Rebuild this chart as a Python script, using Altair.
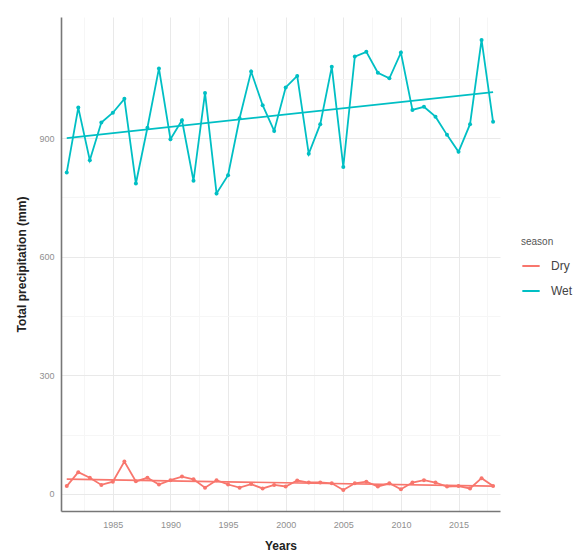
import altair as alt
import pandas as pd

# Seasonal precipitation totals per year (mm)
years = list(range(1981, 2019))
wet = [813, 977, 844, 939, 964, 999, 785, 926, 1076, 897,
       945, 792, 1014, 760, 806, 950, 1068, 983, 918, 1028,
       1057, 860, 935, 1080, 827, 1106, 1118, 1065, 1051, 1116,
       971, 979, 954, 908, 865, 935, 1148, 941]
dry = [20, 55, 41, 23, 31, 82, 32, 41, 24, 35,
       44, 37, 16, 35, 24, 16, 25, 14, 23, 19,
       34, 29, 29, 27, 10, 27, 31, 19, 27, 12,
       29, 35, 29, 19, 20, 14, 40, 20]
seasons = ["Dry", "Wet"]
colors = ["#F8766D", "#00BFC4"]

df = pd.concat([
    pd.DataFrame({"year": years, "precip": dry, "season": "Dry"}),
    pd.DataFrame({"year": years, "precip": wet, "season": "Wet"}),
])

x_ticks = [1982.5, 1985, 1987.5, 1990, 1992.5, 1995, 1997.5, 2000,
           2002.5, 2005, 2007.5, 2010, 2012.5, 2015, 2017.5]
y_ticks = [0, 150, 300, 450, 600, 750, 900, 1050]

x_enc = alt.X(
    "year:Q",
    title="Years",
    scale=alt.Scale(domain=[1980.5, 2018.6], nice=False, zero=False),
    axis=alt.Axis(
        values=x_ticks,
        labelExpr="datum.value % 5 == 0 ? format(datum.value, 'd') : ''",
        ticks=False,
        labelPadding=9,
        gridColor={"condition": {"test": "datum.value % 5 != 0", "value": "#f6f6f6"},
                   "value": "#e9e9e9"},
        titlePadding=11,
    ),
)
y_enc = alt.Y(
    "precip:Q",
    title="Total precipitation (mm)",
    scale=alt.Scale(domain=[-43, 1206], nice=False, zero=False),
    axis=alt.Axis(
        values=y_ticks,
        labelExpr="datum.value % 300 == 0 ? format(datum.value, 'd') : ''",
        ticks=False,
        labelPadding=7,
        gridColor={"condition": {"test": "datum.value % 300 != 0", "value": "#f6f6f6"},
                   "value": "#e9e9e9"},
        titlePadding=10,
    ),
)
color_enc = alt.Color(
    "season:N",
    title="season",
    scale=alt.Scale(domain=seasons, range=colors),
    legend=alt.Legend(
        orient="none", legendX=460, legendY=220,
        symbolType="stroke", symbolSize=300, symbolStrokeWidth=2,
        titleFontSize=10, titleFontWeight="normal", titleColor="#555555",
        labelFontSize=12, labelColor="#444444", labelOffset=10,
        rowPadding=9, titlePadding=9,
    ),
)

base = alt.Chart(df)

lines = base.mark_line(strokeWidth=1.8).encode(x=x_enc, y=y_enc, color=color_enc)
points = base.mark_circle(size=16, opacity=1).encode(x=x_enc, y=y_enc, color=color_enc)
trend = (
    base.transform_regression("year", "precip", groupby=["season"], method="linear")
    .mark_line(strokeWidth=1.7)
    .encode(x=x_enc, y=y_enc, color=color_enc)
)

chart = (
    alt.layer(lines, points, trend)
    .properties(
        width=439, height=494,
        autosize=alt.AutoSizeParams(type="none"),
        padding={"left": 61, "top": 17, "right": 80, "bottom": 40},
    )
    .configure_view(stroke=None)
    .configure_axis(
        labelFont="Liberation Sans", titleFont="Liberation Sans",
        labelFontSize=9, labelColor="#8f8f8f",
        titleFontSize=12, titleFontWeight="bold", titleColor="#222222",
        domainColor="#777777", domainWidth=1.6, gridWidth=1,
    )
    .configure_legend(labelFont="Liberation Sans", titleFont="Liberation Sans")
)

chart.save("out.html", embed_options={"renderer": "svg", "actions": False})
